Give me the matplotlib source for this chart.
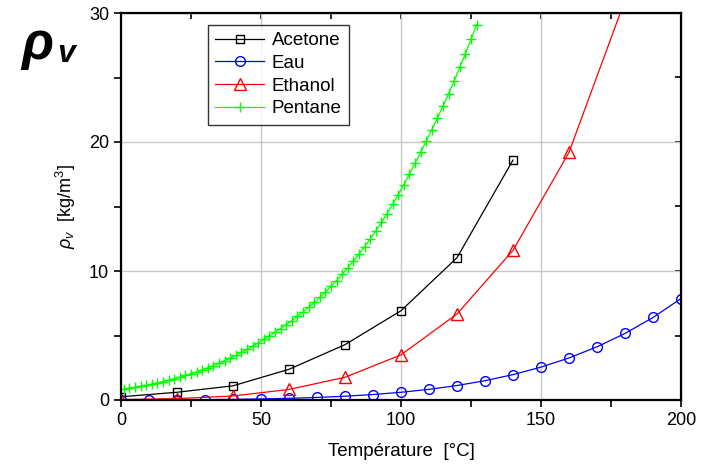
import matplotlib
matplotlib.use("Agg")
import matplotlib.pyplot as plt
from matplotlib.ticker import MultipleLocator

plt.rcParams['font.family'] = ['Liberation Sans', 'DejaVu Sans']
plt.rcParams['mathtext.fontset'] = 'custom'
plt.rcParams['mathtext.rm'] = 'Liberation Sans'
plt.rcParams['mathtext.it'] = 'Liberation Sans:italic'
plt.rcParams['mathtext.bf'] = 'Liberation Sans:bold'

# ---- data ----
acetone_T = [0, 20, 40, 60, 80, 100, 120, 140]
acetone_v = [0.25, 0.60, 1.10, 2.38, 4.29, 6.92, 11.03, 18.6]

eau_T = [0, 10, 20, 30, 40, 50, 60, 70, 80, 90, 100, 110, 120, 130, 140, 150,
         160, 170, 180, 190, 200]
eau_v = [0.005, 0.009, 0.017, 0.030, 0.051, 0.083, 0.130, 0.198, 0.293, 0.424,
         0.598, 0.827, 1.122, 1.497, 1.967, 2.548, 3.260, 4.123, 5.160, 6.397, 7.864]

ethanol_T = [0, 20, 40, 60, 80, 100, 120, 140, 160, 180]
ethanol_v = [0.03, 0.11, 0.31, 0.82, 1.76, 3.5, 6.67, 11.6, 19.2, 31.0]

pentane_T = [1, 3, 5, 7, 9, 11, 13, 15, 17, 19, 21, 23, 25, 27, 29, 31, 33, 35,
             37, 39, 41, 43, 45, 47, 49, 51, 53, 55, 57, 59, 61, 63, 65, 67, 69,
             71, 73, 75, 77, 79, 81, 83, 85, 87, 89, 91, 93, 95, 97, 99, 101, 103,
             105, 107, 109, 111, 113, 115, 117, 119, 121, 123, 125, 127]
pentane_v = [0.84, 0.91, 0.98, 1.06, 1.15, 1.23, 1.33, 1.43, 1.54, 1.65, 1.77,
             1.90, 2.04, 2.18, 2.34, 2.50, 2.67, 2.86, 3.05, 3.25, 3.47, 3.69,
             3.93, 4.17, 4.42, 4.69, 4.96, 5.25, 5.54, 5.84, 6.15, 6.48, 6.82,
             7.18, 7.56, 7.96, 8.37, 8.81, 9.26, 9.74, 10.24, 10.76, 11.31, 11.88,
             12.48, 13.11, 13.76, 14.45, 15.16, 15.91, 16.69, 17.50, 18.34, 19.19,
             20.08, 20.95, 21.85, 22.78, 23.75, 24.75, 25.78, 26.85, 27.95, 29.10]

fig = plt.figure(figsize=(7.02, 4.68), dpi=100)
ax = fig.add_axes([121/702, 1-400/468, 560/702, 387/468])

ax.plot(acetone_T, acetone_v, color='black', lw=0.9, marker='s', ms=6,
        mfc='none', mec='black', mew=1.0, label='Acetone')
ax.plot(eau_T, eau_v, color='blue', lw=0.9, marker='o', ms=7,
        mfc='none', mec='blue', mew=1.0, label='Eau')
ax.plot(ethanol_T, ethanol_v, color='red', lw=0.9, marker='^', ms=8,
        mfc='none', mec='red', mew=1.0, label='Ethanol')
ax.plot(pentane_T, pentane_v, color='#00ff00', lw=0.9, marker='+', ms=7,
        mec='#00ff00', mew=1.0, label='Pentane')

ax.set_xlim(0, 200)
ax.set_ylim(0, 30)
ax.xaxis.set_major_locator(MultipleLocator(50))
ax.xaxis.set_minor_locator(MultipleLocator(25))
ax.yaxis.set_major_locator(MultipleLocator(10))
ax.yaxis.set_minor_locator(MultipleLocator(5))
ax.grid(True, which='major', color='#c8c8c8', lw=1.0)
ax.set_axisbelow(True)

for s in ax.spines.values():
    s.set_linewidth(1.6)

ax.tick_params(axis='both', which='both', direction='out', labelsize=13,
               width=1.2, length=5, top=False, right=False)

sec_x = ax.secondary_xaxis('top')
sec_x.xaxis.set_major_locator(MultipleLocator(50))
sec_x.xaxis.set_minor_locator(MultipleLocator(25))
sec_x.tick_params(which='both', direction='in', length=4, width=1.2, labeltop=False)
sec_y = ax.secondary_yaxis('right')
sec_y.yaxis.set_major_locator(MultipleLocator(10))
sec_y.yaxis.set_minor_locator(MultipleLocator(5))
sec_y.tick_params(which='both', direction='in', length=4, width=1.2, labelright=False)

ax.set_xlabel('Température  [°C]', fontsize=13.5, labelpad=10)
ax.set_ylabel(r'$\rho_{v}$  [kg/m$^3$]', fontsize=13, labelpad=8)

leg = ax.legend(loc='upper left', bbox_to_anchor=(0.155, 0.97), fontsize=13.5,
                frameon=True, fancybox=False, edgecolor='black', handlelength=2.6,
                borderpad=0.4, labelspacing=0.3, handletextpad=0.4,
                borderaxespad=0)
leg.get_frame().set_linewidth(1.0)

fig.text(0.030, 0.875, 'ρ', fontsize=38, fontweight='bold', fontstyle='italic')
fig.text(0.081, 0.868, 'v', fontsize=23, fontweight='bold', fontstyle='italic')

fig.savefig('out.png', dpi=100)
